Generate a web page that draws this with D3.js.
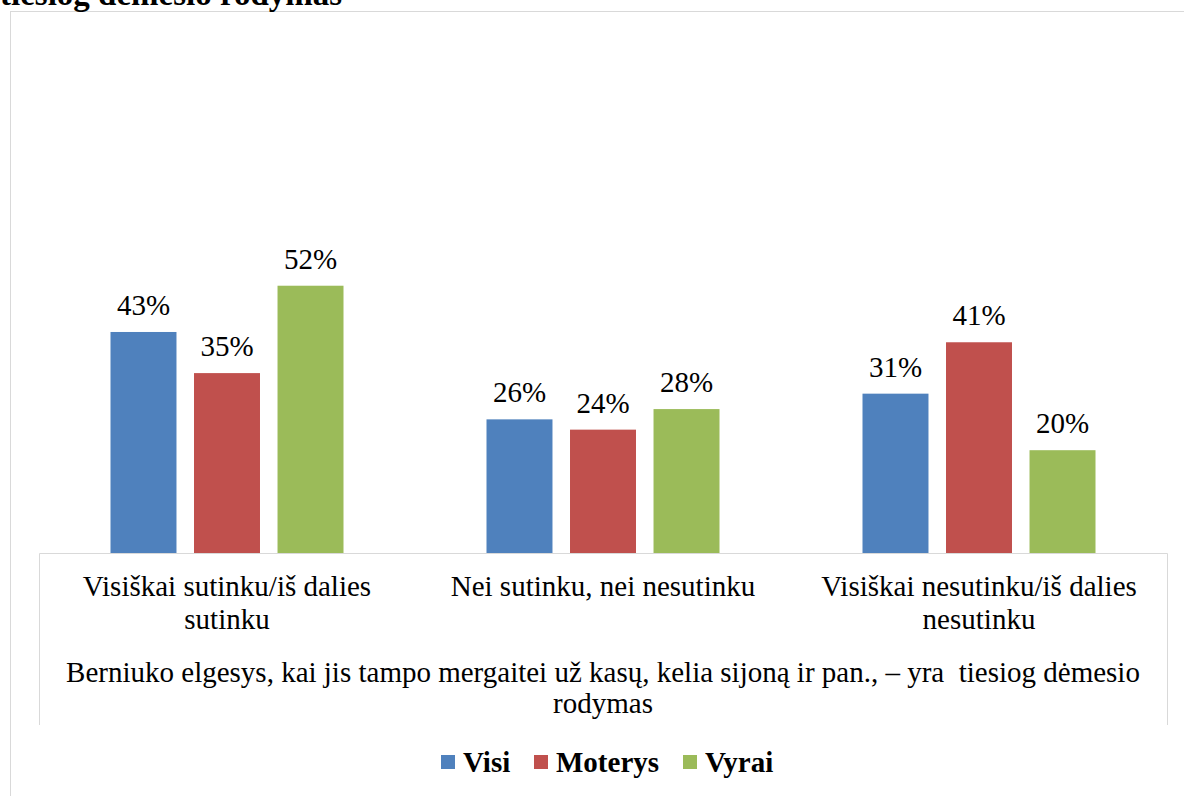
<!DOCTYPE html>
<html>
<head>
<meta charset="utf-8">
<script src="https://cdn.jsdelivr.net/npm/d3@7"></script>
</head>
<body style="margin:0;background:#fff">
<script>
const title = 'tiesiog dėmesio rodymas';
const categories = ['Visiškai sutinku/iš dalies sutinku', 'Nei sutinku, nei nesutinku', 'Visiškai nesutinku/iš dalies nesutinku'];
const seriesNames = ['Visi', 'Moterys', 'Vyrai'];
const seriesColors = ['#4F81BD', '#C0504D', '#9BBB59'];
const visi = [43, 26, 31];
const moterys = [35, 24, 41];
const vyrai = [52, 28, 20];
const axisTitle = 'Berniuko elgesys, kai jis tampo mergaitei už kasų, kelia sijoną ir pan., – yra  tiesiog dėmesio rodymas';

const series = [visi, moterys, vyrai];
const FONT = 'Tinos';

const svg = d3.select('body')
  .append('svg')
  .attr('width', 1184)
  .attr('height', 796)
  .attr('font-family', FONT);

// outer chart border
svg.append('rect')
  .attr('x', 10.5)
  .attr('y', 11.5)
  .attr('width', 1200)
  .attr('height', 800)
  .attr('fill', 'none')
  .attr('stroke', '#d9d9d9');

svg.append('text')
  .attr('x', 0)
  .attr('y', 5)
  .attr('font-family', FONT)
  .attr('font-size', 33)
  .attr('font-weight', 'bold')
  .text(title);

const x0 = d3.scaleBand()
  .domain(categories)
  .range([39, 1167]);

const x1 = d3.scaleBand()
  .domain(seriesNames)
  .range([71.5, 376 - 71.5])
  .paddingInner(0.21);

const y = d3.scaleLinear()
  .domain([0, 100])
  .range([553, 39]);

categories.forEach((cat, ci) => {
  seriesNames.forEach((name, si) => {
    const v = series[si][ci];
    const bx = x0(cat) + x1(name);
    svg.append('rect')
      .attr('x', bx)
      .attr('y', y(v))
      .attr('width', x1.bandwidth())
      .attr('height', y(0) - y(v))
      .attr('fill', seriesColors[si]);
    svg.append('text')
      .attr('x', bx + x1.bandwidth() / 2)
      .attr('y', y(v) - 17)
      .attr('text-anchor', 'middle')
      .attr('font-family', FONT)
      .attr('font-size', 29)
      .text(v + '%');
  });
});

// category axis box
svg.append('path')
  .attr('d', 'M39.5,725 V553.5 H1167.5 V725')
  .attr('fill', 'none')
  .attr('stroke', '#d9d9d9');

// split text into lines that fit a width, one text element per line
function splitLines(str, width, size) {
  const probe = svg.append('text').attr('font-family', FONT).attr('font-size', size);
  const words = str.split(' ');
  const lines = [];
  let line = [];
  words.forEach(w => {
    line.push(w);
    probe.text(line.join(' '));
    if (probe.node().getComputedTextLength() > width && line.length > 1) {
      line.pop();
      lines.push(line.join(' '));
      line = [w];
    }
  });
  lines.push(line.join(' '));
  probe.remove();
  return lines;
}

categories.forEach(c => {
  splitLines(c, 360, 29).forEach((ln, i) => {
    svg.append('text')
      .attr('x', x0(c) + x0.bandwidth() / 2)
      .attr('y', 596 + i * 33)
      .attr('text-anchor', 'middle')
      .attr('font-family', FONT)
      .attr('font-size', 29)
      .text(ln);
  });
});

splitLines(axisTitle, 1110, 29).forEach((ln, i) => {
  svg.append('text')
    .attr('x', 603)
    .attr('y', 682 + i * 31)
    .attr('text-anchor', 'middle')
    .attr('font-family', FONT)
    .attr('font-size', 29)
    .style('white-space', 'pre')
    .text(ln);
});

// legend
const legendX = [441, 534, 683];
seriesNames.forEach((name, i) => {
  svg.append('rect')
    .attr('x', legendX[i])
    .attr('y', 755)
    .attr('width', 14)
    .attr('height', 14)
    .attr('fill', seriesColors[i]);
  svg.append('text')
    .attr('x', legendX[i] + 22)
    .attr('y', 772)
    .attr('font-family', FONT)
    .attr('font-size', 29)
    .attr('font-weight', 'bold')
    .text(name);
});
</script>
</body>
</html>
